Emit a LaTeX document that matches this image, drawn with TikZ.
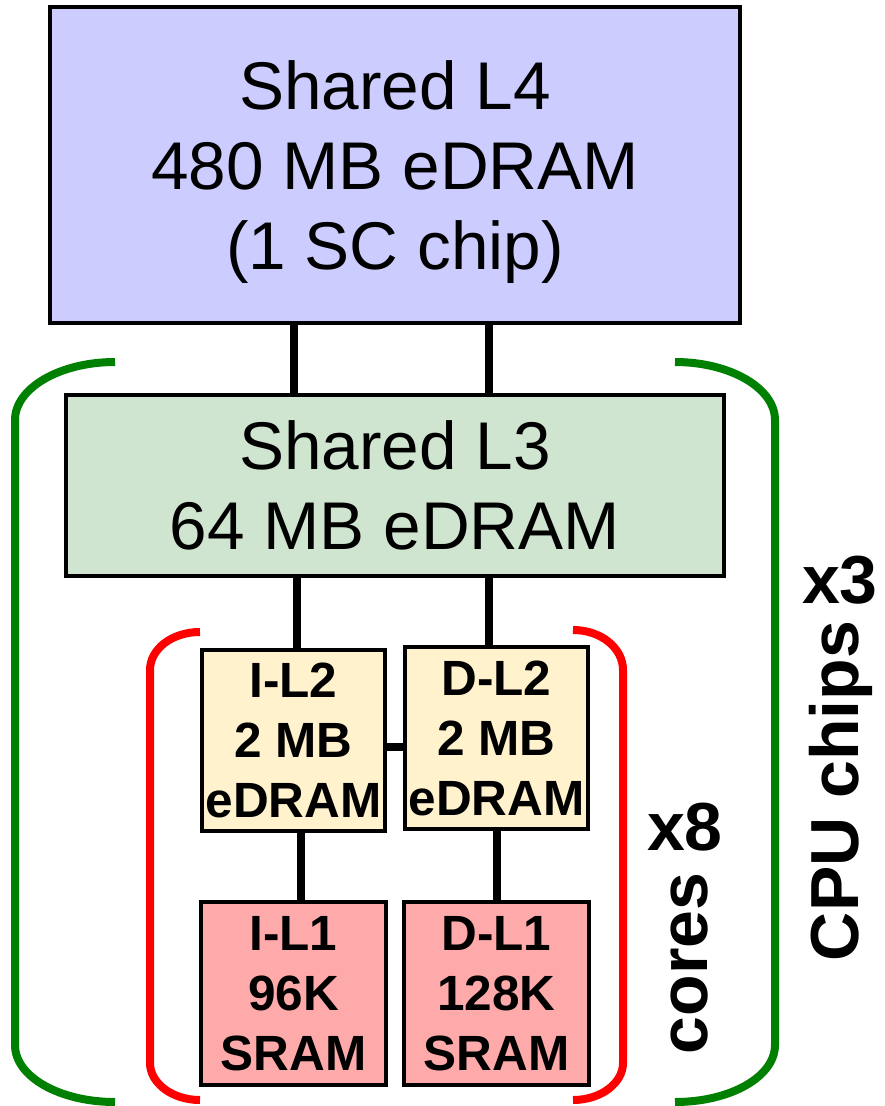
\documentclass[tikz,border=0pt]{standalone}
\usepackage{fontspec}
\setmainfont{Liberation Sans}
\definecolor{lfour}{RGB}{204,204,255}
\definecolor{lthree}{RGB}{207,229,207}
\definecolor{ltwo}{RGB}{255,242,204}
\definecolor{lone}{RGB}{255,170,170}
\definecolor{chipgreen}{RGB}{0,128,0}
\tikzset{
  cache/.style={draw, line width=4pt, inner sep=0pt, align=center},
  shared/.style={cache, font=\fontsize{67.5}{80}\selectfont},
  core/.style={cache, font=\fontsize{49.5}{60}\selectfont\bfseries},
  wire/.style={line width=8pt},
  brace/.style={line width=8pt},
  count/.style={font=\fontsize{68}{80}\selectfont\bfseries, inner sep=0pt, anchor=base},
}
\begin{document}
\begin{tikzpicture}[x=1pt,y=-1pt]
\useasboundingbox (0,0) rectangle (885,1106);
% cache levels
\node[shared, fill=lfour, minimum width=690, minimum height=316, text depth=0pt] (l4) at (395,165)
    {Shared L4\\480 MB eDRAM\\(1 SC chip)};
\node[shared, fill=lthree, minimum width=658, minimum height=181] (l3) at (395,485.5)
    {Shared L3\\64 MB eDRAM};
\node[core, fill=ltwo, minimum width=183, minimum height=181] (il2) at (293.5,740.5)
    {I-L2\\2 MB\\eDRAM};
\node[core, fill=ltwo, minimum width=183, minimum height=182] (dl2) at (496.5,738)
    {D-L2\\2 MB\\eDRAM};
\node[core, fill=lone, minimum width=185, minimum height=183] (il1) at (293.5,993.5)
    {I-L1\\96K\\SRAM};
\node[core, fill=lone, minimum width=185, minimum height=183] (dl1) at (496.5,993.5)
    {D-L1\\128K\\SRAM};
% wires
\coordinate (rx) at ([xshift=-8pt]dl2.north);
\draw[wire] (il2.north |- l4.south) -- (il2.north |- l3.north);
\draw[wire] (rx |- l4.south) -- (rx |- l3.north);
\draw[wire] ([xshift=3pt]il2.north |- l3.south) -- ([xshift=3pt]il2.north);
\draw[wire] (rx |- l3.south) -- (rx);
\draw[wire] (il2.east |- 0,747) -- (dl2.west |- 0,747);
\draw[wire] ([xshift=7pt]il2.south) -- ([xshift=7pt]il2.south |- il1.north);
\draw[wire] (dl2.south) -- (dl2.south |- dl1.north);
% brackets
\draw[brace, chipgreen] (115,362) .. controls (60,362) and (15,388) .. (15,420)
    -- (15,1045) .. controls (15,1077) and (60,1102) .. (115,1102);
\draw[brace, chipgreen] (675,362) .. controls (730,362) and (775,388) .. (775,420)
    -- (775,1045) .. controls (775,1077) and (730,1102) .. (675,1102);
\draw[brace, red] (200,632) .. controls (172,632) and (150,649) .. (150,670)
    -- (150,1063) .. controls (150,1083) and (172,1100) .. (200,1100);
\draw[brace, red] (573,630) .. controls (601,630) and (623,648) .. (623,670)
    -- (623,1063) .. controls (623,1083) and (601,1100) .. (573,1100);
% labels
\node[count] (x8) at (685,850) {x8};
\node[count, rotate=90] (cores) at (707,963.5) {cores};
\node[count] (x3) at (840,603) {x3};
\node[count, rotate=90] (chips) at (858,791) {CPU chips};
\end{tikzpicture}
\end{document}
